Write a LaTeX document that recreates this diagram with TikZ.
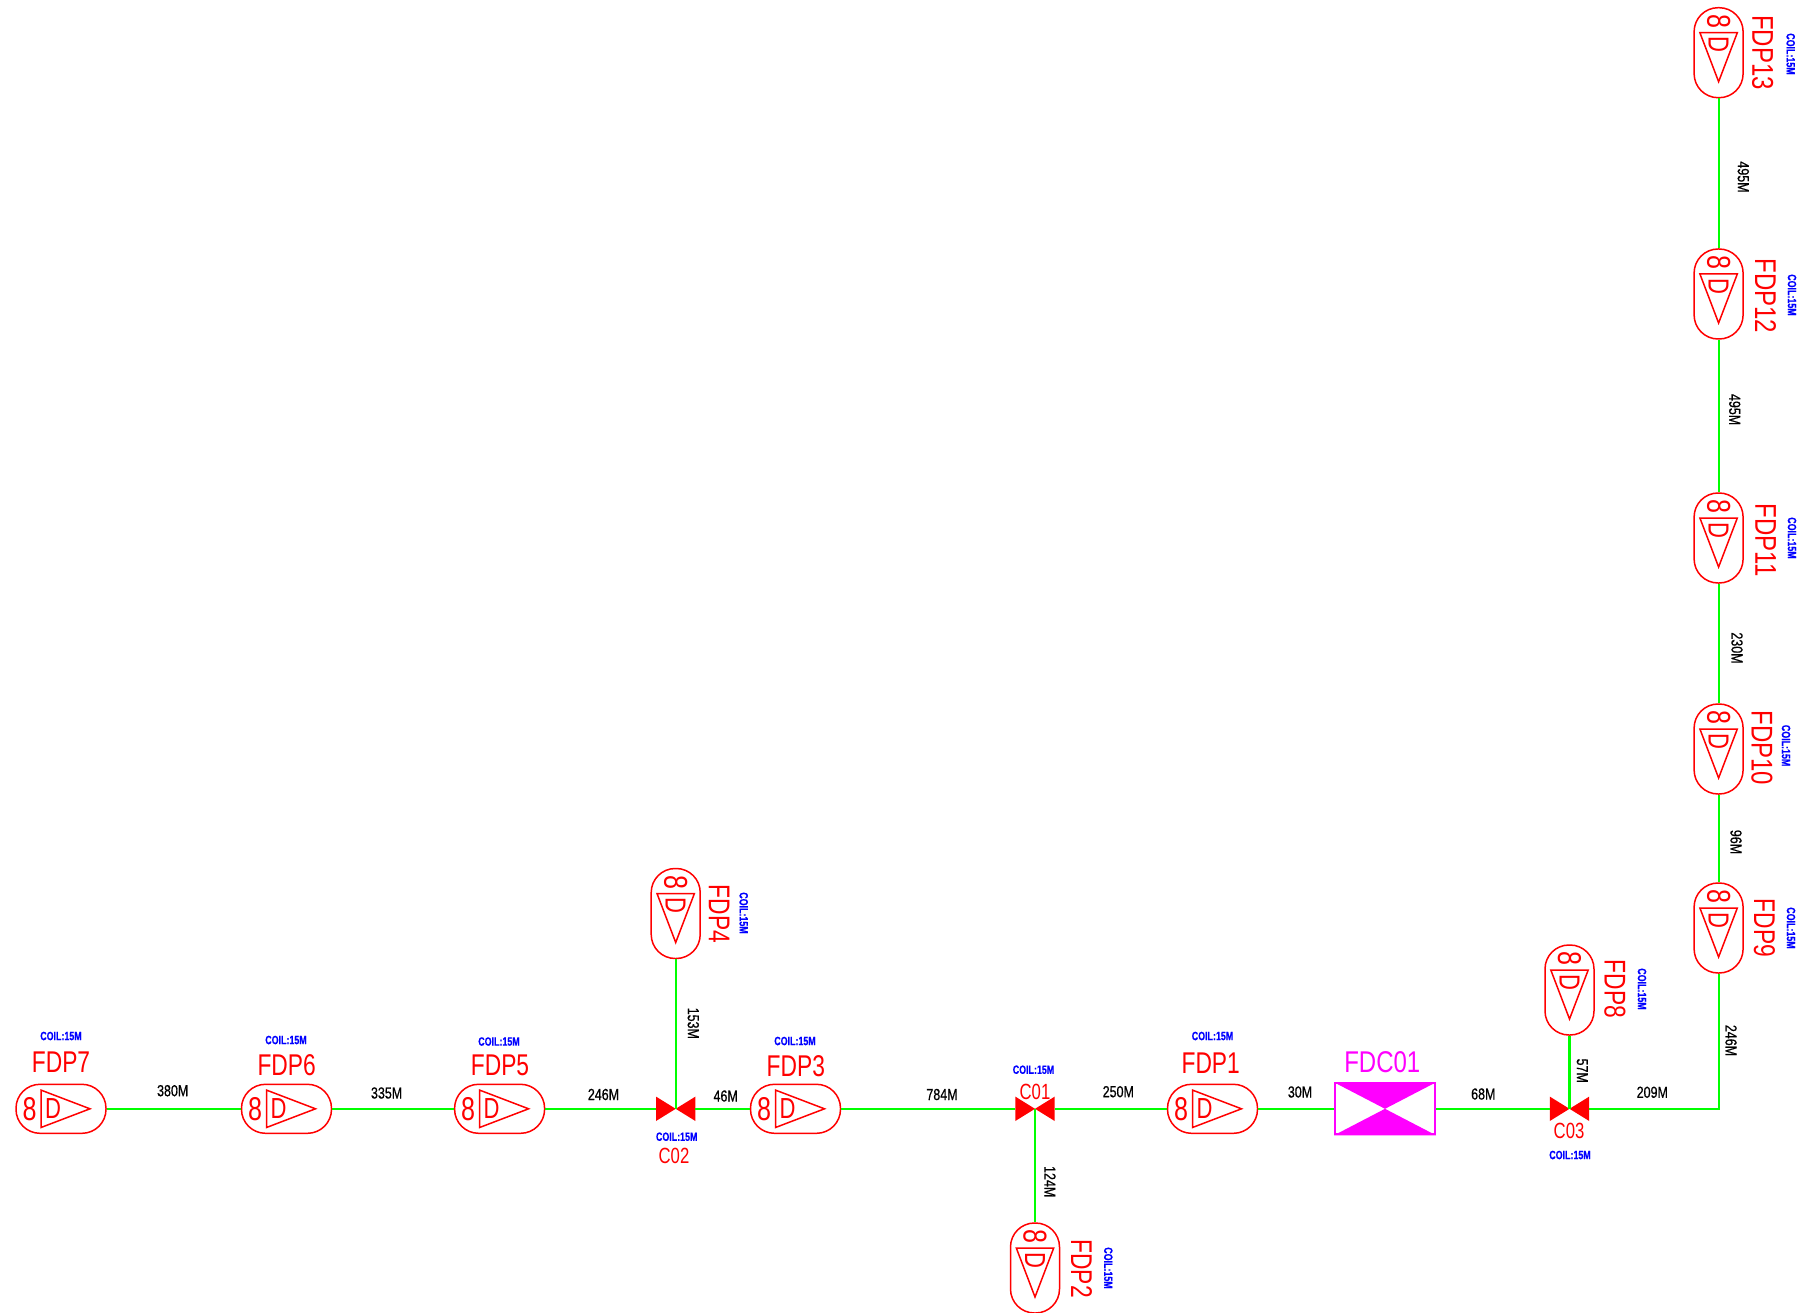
\documentclass[tikz,border=0pt]{standalone}
\usepackage{fontspec}
\newfontfamily\cadfont[FakeStretch=0.76]{Liberation Sans}
\newfontfamily\cadwide[FakeStretch=0.80]{Liberation Sans}
\newfontfamily\cadlen[FakeStretch=0.78,FakeBold=0.6]{Liberation Sans}
\newfontfamily\cadbold[FakeStretch=0.74,FakeBold=0.4]{Liberation Sans Bold}
\definecolor{cadred}{RGB}{255,0,0}
\definecolor{cadgreen}{RGB}{0,255,0}
\definecolor{cadblue}{RGB}{0,0,255}
\definecolor{cadmag}{RGB}{255,0,255}
\tikzset{
  pillh/.style={draw=cadred,line width=1.5pt,rounded corners=24pt,minimum width=90pt,minimum height=49pt,inner sep=0pt},
  pillv/.style={draw=cadred,line width=1.5pt,rounded corners=24pt,minimum width=49pt,minimum height=90pt,inner sep=0pt},
  valvebox/.style={minimum width=39pt,minimum height=24pt,inner sep=0pt},
  cable/.style={draw=cadgreen,line width=2.2pt},
  tagtext/.style={text=cadred,inner sep=0pt,font=\cadfont\fontsize{30}{30}\selectfont},
  tagwide/.style={text=cadred,inner sep=0pt,font=\cadwide\fontsize{30}{30}\selectfont},
  valvetext/.style={text=cadred,inner sep=0pt,font=\cadfont\fontsize{22}{22}\selectfont},
  coiltext/.style={text=cadblue,inner sep=0pt,font=\cadbold\fontsize{12}{12}\selectfont},
  lentext/.style={text=black,inner sep=0pt,font=\cadlen\fontsize{16}{16}\selectfont},
  eighttext/.style={text=cadred,inner sep=0pt,font=\cadfont\fontsize{33}{33}\selectfont},
  dtext/.style={text=cadred,inner sep=0pt,font=\cadfont\fontsize{29}{29}\selectfont},
  wedge/.style={draw=cadred,line width=1.5pt,line join=miter}
}
% #1 name, #2 x, #3 y, #4 pill style, #5 rotation
\newcommand{\fdpsym}[5]{%
  \node[#4] (#1) at (#2,#3) {};
  \begin{scope}[shift={(#2,#3)},rotate=#5]
    \node[eighttext,rotate=#5] (#1-eight) at (-31.5,0) {8};
    \draw[wedge] (-20,18.7) -- (29,0) -- (-20,-18.7) -- cycle;
    \node[dtext,rotate=#5] (#1-d) at (-8,0) {D};
  \end{scope}
}
\newcommand{\valvesym}[3]{%
  \node[valvebox] (#1) at (#2,#3) {};
  \fill[cadred] (#1.north west) -- (#1.south east) -- (#1.north east) -- (#1.south west) -- cycle;
}
\begin{document}
\begin{tikzpicture}[x=1pt,y=-1pt]
\useasboundingbox (0,0) rectangle (1799,1313);
% horizontal outlets
\fdpsym{FDP7}{61}{1108.8}{pillh}{0}
\fdpsym{FDP6}{286.5}{1108.8}{pillh}{0}
\fdpsym{FDP5}{499.6}{1108.8}{pillh}{0}
\fdpsym{FDP3}{795.5}{1108.8}{pillh}{0}
\fdpsym{FDP1}{1212.5}{1108.8}{pillh}{0}
% vertical outlets
\fdpsym{FDP2}{1035}{1268}{pillv}{-90}
\fdpsym{FDP4}{675.7}{913.5}{pillv}{-90}
\fdpsym{FDP8}{1569.5}{990}{pillv}{-90}
\fdpsym{FDP9}{1718.6}{928}{pillv}{-90}
\fdpsym{FDP10}{1718.6}{749}{pillv}{-90}
\fdpsym{FDP11}{1718.6}{538}{pillv}{-90}
\fdpsym{FDP12}{1718.6}{294}{pillv}{-90}
\fdpsym{FDP13}{1718.6}{52.7}{pillv}{-90}
% closures
\valvesym{C01}{1035}{1108.8}
\valvesym{C02}{675.7}{1108.8}
\valvesym{C03}{1569.5}{1108.8}
% FDC01
\node[draw=cadmag,line width=2pt,minimum width=100pt,minimum height=51pt,inner sep=0pt] (FDC01) at (1385,1108.8) {};
\fill[cadmag] (FDC01.north west) -- (FDC01.north east) -- (FDC01.south west) -- (FDC01.south east) -- cycle;
% cables
\draw[cable] (FDP7.east) -- (FDP6.west);
\draw[cable] (FDP6.east) -- (FDP5.west);
\draw[cable] (FDP5.east) -- (C02.west);
\draw[cable] (C02.east) -- (FDP3.west);
\draw[cable] (FDP3.east) -- (C01.west);
\draw[cable] (C01.east) -- (FDP1.west);
\draw[cable] (FDP1.east) -- (FDC01.west);
\draw[cable] (FDC01.east) -- (C03.west);
\draw[cable] (C03.east) -| (FDP9.south);
\draw[cable] (FDP4.south) -- (C02.center);
\draw[cable] (C01.center) -- (FDP2.north);
\draw[cable] (FDP8.south) -- (C03.center);
\draw[cable] (FDP9.north) -- (FDP10.south);
\draw[cable] (FDP10.north) -- (FDP11.south);
\draw[cable] (FDP11.north) -- (FDP12.south);
\draw[cable] (FDP12.north) -- (FDP13.south);
% tags
\node[tagtext] (t7) at (61,1062) {FDP7};
\node[tagtext] (t6) at (286.7,1065) {FDP6};
\node[tagtext] (t5) at (500,1065.5) {FDP5};
\node[tagtext] (t3) at (795.8,1066) {FDP3};
\node[tagtext] (t1) at (1210.7,1062.7) {FDP1};
\node[tagtext,rotate=-90] (t2) at (1081.7,1268.7) {FDP2};
\node[tagtext,rotate=-90] (t4) at (719.3,914) {FDP4};
\node[tagtext,rotate=-90] (t8) at (1615,989) {FDP8};
\node[tagtext,rotate=-90] (t9) at (1764.5,928) {FDP9};
\node[tagwide,rotate=-90] (t10) at (1762,748) {FDP10};
\node[tagwide,rotate=-90] (t11) at (1765.7,540) {FDP11};
\node[tagwide,rotate=-90] (t12) at (1765.7,296) {FDP12};
\node[tagwide,rotate=-90] (t13) at (1762.7,52.5) {FDP13};
\node[tagwide,text=cadmag] (tc) at (1382.3,1061.7) {FDC01};
\node[valvetext] (v1) at (1035,1092) {C01};
\node[valvetext] (v2) at (674,1156) {C02};
\node[valvetext] (v3) at (1569,1131) {C03};
% coil notes
\node[coiltext] (c7) at (61,1036) {COIL:15M};
\node[coiltext] (c6) at (286,1040) {COIL:15M};
\node[coiltext] (c5) at (499,1041.5) {COIL:15M};
\node[coiltext] (c3) at (795,1041) {COIL:15M};
\node[coiltext] (c1) at (1212.5,1036) {COIL:15M};
\node[coiltext] (cc1) at (1033.5,1069.7) {COIL:15M};
\node[coiltext] (cc2) at (676.7,1136.7) {COIL:15M};
\node[coiltext] (cc3) at (1570,1155) {COIL:15M};
\node[coiltext,rotate=-90] (c2) at (1108.3,1268) {COIL:15M};
\node[coiltext,rotate=-90] (c4) at (743.7,913) {COIL:15M};
\node[coiltext,rotate=-90] (c8) at (1642,989) {COIL:15M};
\node[coiltext,rotate=-90] (c9) at (1791,928) {COIL:15M};
\node[coiltext,rotate=-90] (c10) at (1786,745.6) {COIL:15M};
\node[coiltext,rotate=-90] (c11) at (1792,538) {COIL:15M};
\node[coiltext,rotate=-90] (c12) at (1792,295) {COIL:15M};
\node[coiltext,rotate=-90] (c13) at (1790.7,54) {COIL:15M};
% lengths
\node[lentext] (l1) at (172.7,1090.7) {380M};
\node[lentext] (l2) at (386.6,1093) {335M};
\node[lentext] (l3) at (603.5,1094.5) {246M};
\node[lentext] (l4) at (725.7,1096) {46M};
\node[lentext] (l5) at (942,1094.5) {784M};
\node[lentext] (l6) at (1118.3,1091.7) {250M};
\node[lentext] (l7) at (1300,1092) {30M};
\node[lentext] (l8) at (1483.3,1094) {68M};
\node[lentext] (l9) at (1652.3,1092.3) {209M};
\node[lentext,rotate=-90] (l10) at (1731,1040.5) {246M};
\node[lentext,rotate=-90] (l11) at (1582.3,1070.7) {57M};
\node[lentext,rotate=-90] (l12) at (1050,1181.7) {124M};
\node[lentext,rotate=-90] (l13) at (693.3,1023.3) {153M};
\node[lentext,rotate=-90] (l14) at (1736,842) {96M};
\node[lentext,rotate=-90] (l15) at (1737,648) {230M};
\node[lentext,rotate=-90] (l16) at (1734.7,409.6) {495M};
\node[lentext,rotate=-90] (l17) at (1743.3,177) {495M};
\end{tikzpicture}
\end{document}
